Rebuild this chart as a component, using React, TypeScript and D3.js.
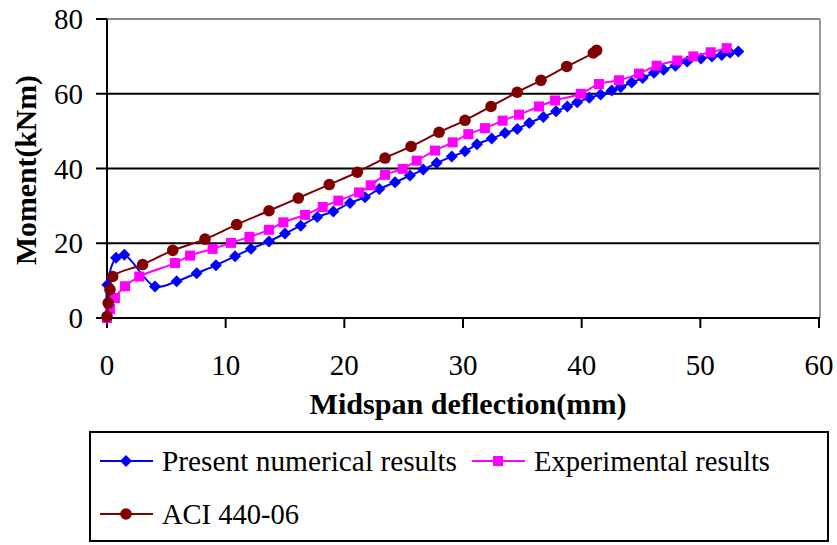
import React from "react";
import * as d3 from "d3";

const xTicks = [0, 10, 20, 30, 40, 50, 60];
const yTicks = [0, 20, 40, 60, 80];

const numX = [0, 0.03, 0.76, 1.46, 4.04, 5.87, 7.56, 9.18, 10.79, 12.13, 13.65, 15.0, 16.32, 17.72, 19.07, 20.48, 21.74, 22.95, 24.27, 25.53, 26.65, 27.78, 29.05, 30.17, 31.18, 32.42, 33.54, 34.57, 35.59, 36.77, 37.84, 38.79, 39.63, 40.64, 41.6, 42.53, 43.29, 44.21, 45.14, 46.09, 46.9, 47.9, 48.9, 50.05, 50.98, 51.8, 52.5, 53.2];
const numY = [0, 8.9, 16.1, 16.9, 8.45, 9.8, 12.0, 14.1, 16.5, 18.5, 20.5, 22.6, 24.7, 27.0, 28.5, 30.8, 32.3, 34.5, 36.3, 38.1, 39.7, 41.5, 43.2, 44.6, 46.5, 48.0, 49.5, 50.6, 52.2, 53.8, 55.3, 56.6, 57.7, 58.9, 59.8, 60.9, 61.8, 63.0, 64.2, 65.6, 66.4, 67.5, 68.6, 69.4, 70.0, 70.4, 71.0, 71.3];

const expX = [0, 0.25, 0.67, 1.52, 2.72, 5.73, 7.0, 8.9, 10.45, 12.0, 13.65, 14.86, 16.69, 18.18, 19.49, 21.24, 22.22, 23.43, 24.92, 26.1, 27.64, 29.13, 30.45, 31.85, 33.34, 34.72, 36.4, 37.75, 39.92, 41.46, 43.14, 44.83, 46.32, 48.06, 49.41, 50.87, 52.22];
const expY = [0, 2.4, 5.35, 8.5, 11.1, 14.7, 16.7, 18.5, 20.1, 21.7, 23.6, 25.6, 27.6, 29.7, 31.4, 33.6, 35.5, 38.3, 39.9, 42.1, 44.8, 47.0, 49.2, 50.8, 52.8, 54.4, 56.6, 58.2, 60.0, 62.6, 63.6, 65.4, 67.5, 68.9, 70.0, 71.1, 72.2];

const aciX = [0, 0.1, 0.25, 0.48, 3.0, 5.54, 8.26, 10.93, 13.65, 16.12, 18.73, 21.09, 23.43, 25.62, 27.98, 30.17, 32.36, 34.57, 36.57, 38.74, 40.98, 41.26];
const aciY = [0.4, 4.0, 7.6, 11.1, 14.3, 18.1, 21.1, 25.0, 28.7, 32.1, 35.7, 39.0, 42.8, 45.9, 49.7, 52.9, 56.6, 60.4, 63.6, 67.3, 70.9, 71.6];

const seriesNames = ["Present numerical results", "Experimental results", "ACI 440-06"];

const W = 837, H = 545;
const L = 107, R = 819, T = 19, B = 318;
const FONT = "'Liberation Serif', 'Times New Roman', serif";

type Pt = [number, number];
const zip = (xs: number[], ys: number[]): Pt[] => xs.map((x, i) => [x, ys[i]]);

function Marker({ kind, x, y, color }: { kind: string; x: number; y: number; color: string }) {
  if (kind === "diamond") {
    const s = 6;
    return <path d={`M${x},${y - s}L${x + s},${y}L${x},${y + s}L${x - s},${y}Z`} fill={color} />;
  }
  if (kind === "square") {
    const s = 5;
    return <rect x={x - s} y={y - s} width={2 * s} height={2 * s} fill={color} />;
  }
  return <circle cx={x} cy={y} r={5.8} fill={color} />;
}

export default function App() {
  const xs = d3.scaleLinear().domain([0, 60]).range([L, R]);
  const ys = d3.scaleLinear().domain([0, 80]).range([B, T]);
  const line = d3
    .line<Pt>()
    .x((d) => xs(d[0]))
    .y((d) => ys(d[1]))
    .curve(d3.curveCatmullRom.alpha(0.5));

  const series = [
    { name: seriesNames[0], data: zip(numX, numY), color: "#0000FF", kind: "diamond" },
    { name: seriesNames[1], data: zip(expX, expY), color: "#FF00FF", kind: "square" },
    { name: seriesNames[2], data: zip(aciX, aciY), color: "#800000", kind: "circle" },
  ];

  const legendItems = [
    { s: series[0], lx: 100, ly: 461, tx: 162, tl: 295 },
    { s: series[1], lx: 472, ly: 461, tx: 534, tl: 236 },
    { s: series[2], lx: 100, ly: 514, tx: 162, tl: 137 },
  ];

  return (
    <svg width={W} height={H} style={{ position: "absolute", left: 0, top: 0, background: "#fff" }} fontFamily={FONT}>
      <rect x={0} y={0} width={W} height={H} fill="#fff" />
      <line x1={L} x2={R + 1} y1={T} y2={T} stroke="#888" strokeWidth={2} />
      <line x1={R + 1} x2={R + 1} y1={T} y2={B} stroke="#999" strokeWidth={2} />
      {yTicks.filter((t) => t > 0 && t < 80).map((t) => (
        <line key={t} x1={L} x2={R} y1={ys(t)} y2={ys(t)} stroke="#000" strokeWidth={2} />
      ))}
      {yTicks.map((t) => (
        <g key={t}>
          <line x1={L - 11} x2={L} y1={ys(t)} y2={ys(t)} stroke="#000" strokeWidth={2} />
          <text x={83} y={ys(t)} dy="0.35em" textAnchor="end" fontSize={29}>
            {t}
          </text>
        </g>
      ))}
      {xTicks.map((t) => (
        <g key={t}>
          <line x1={xs(t)} x2={xs(t)} y1={B} y2={B + 10} stroke="#000" strokeWidth={2} />
          <text x={xs(t)} y={375} textAnchor="middle" fontSize={29}>
            {t}
          </text>
        </g>
      ))}
      <line x1={L} x2={L} y1={T} y2={B + 1} stroke="#000" strokeWidth={2} />
      <line x1={L} x2={R + 1} y1={B} y2={B} stroke="#000" strokeWidth={2} />
      {series.map((s) => (
        <g key={s.name}>
          <path d={line(s.data) || ""} fill="none" stroke={s.color} strokeWidth={2} />
          {s.data.map((d, i) => (
            <Marker key={i} kind={s.kind} x={xs(d[0])} y={ys(d[1])} color={s.color} />
          ))}
        </g>
      ))}
      <text x={468} y={414} textAnchor="middle" fontSize={30} fontWeight="bold" textLength={317} lengthAdjust="spacingAndGlyphs">
        Midspan deflection(mm)
      </text>
      <text
        transform={`translate(36,170) rotate(-90)`}
        textAnchor="middle"
        fontSize={30}
        fontWeight="bold"
        textLength={190}
        lengthAdjust="spacingAndGlyphs"
      >
        Moment(kNm)
      </text>
      <rect x={90} y={432} width={738} height={109} fill="#fff" stroke="#000" strokeWidth={2} />
      {legendItems.map((it) => (
        <g key={it.s.name}>
          <line x1={it.lx} x2={it.lx + 53} y1={it.ly} y2={it.ly} stroke={it.s.color} strokeWidth={2} />
          <Marker kind={it.s.kind} x={it.lx + 26} y={it.ly} color={it.s.color} />
          <text x={it.tx} y={it.ly + 10} fontSize={29} textLength={it.tl} lengthAdjust="spacingAndGlyphs">
            {it.s.name}
          </text>
        </g>
      ))}
    </svg>
  );
}
